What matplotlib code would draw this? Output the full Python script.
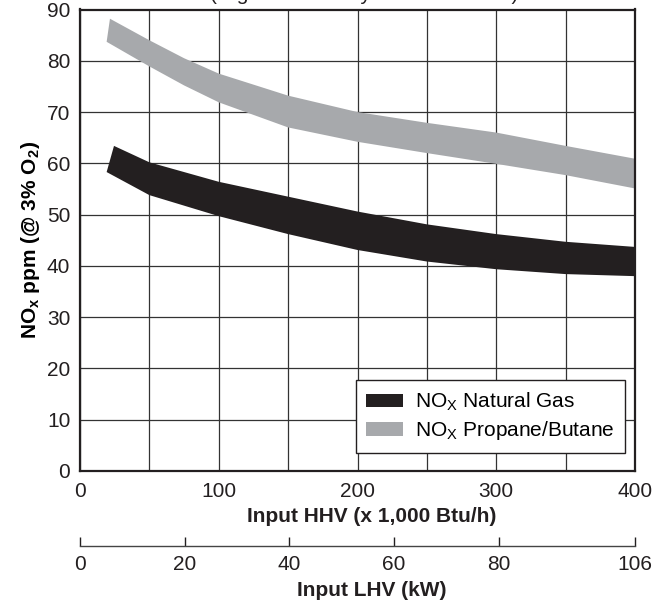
import matplotlib
matplotlib.use('Agg')
import matplotlib.pyplot as plt
from matplotlib.patches import Patch
import numpy as np

# band edges (x = input HHV in 1,000 Btu/h, y = NOx ppm)
gas_top_x = [24.5, 50, 100, 150, 200, 250, 300, 350, 400]
gas_top_y = [63.4, 60.2, 56.4, 53.5, 50.6, 48.1, 46.2, 44.7, 43.7]
gas_bot_x = [19.2, 50, 100, 150, 200, 250, 300, 350, 400]
gas_bot_y = [58.3, 53.8, 49.7, 46.2, 43.1, 40.85, 39.35, 38.4, 38.0]

lpg_top_x = [21.6, 50, 75, 100, 150, 200, 250, 300, 350, 400]
lpg_top_y = [88.2, 84.0, 80.5, 77.5, 73.2, 70.0, 67.9, 66.0, 63.4, 60.9]
lpg_bot_x = [19.2, 50, 75, 100, 150, 200, 250, 300, 350, 400]
lpg_bot_y = [83.7, 78.9, 75.2, 71.9, 67.0, 64.2, 62.0, 59.9, 57.7, 55.1]

hhv_ticks = [0, 100, 200, 300, 400]
lhv_ticks = [0, 20, 40, 60, 80, 106]
lhv_max = 106
hhv_max = 400

labels = ['NO$_\\mathregular{X}$ Natural Gas', 'NO$_\\mathregular{X}$ Propane/Butane']
colors = ['#231f20', '#a7a9ac']

plt.rcParams['font.family'] = ['Liberation Sans', 'DejaVu Sans']
plt.rcParams['mathtext.fontset'] = 'custom'
plt.rcParams['mathtext.rm'] = 'Liberation Sans'
plt.rcParams['mathtext.it'] = 'Liberation Sans:italic'
plt.rcParams['mathtext.bf'] = 'Liberation Sans:bold'

W, H = 668, 605
fig = plt.figure(figsize=(W / 100, H / 100), dpi=100)
ax = fig.add_axes([80 / W, 1 - 471 / H, 555 / W, 461.5 / H])

ax.fill(np.concatenate([gas_top_x, gas_bot_x[::-1]]),
        np.concatenate([gas_top_y, gas_bot_y[::-1]]),
        color=colors[0], lw=0, zorder=3)
ax.fill(np.concatenate([lpg_top_x, lpg_bot_x[::-1]]),
        np.concatenate([lpg_top_y, lpg_bot_y[::-1]]),
        color=colors[1], lw=0, zorder=3)

ax.set_xlim(0, hhv_max)
ax.set_ylim(0, 90)
ax.set_xticks(hhv_ticks)
ax.set_xticks(np.arange(0, 401, 50), minor=True)
ax.set_yticks(np.arange(0, 91, 10))
ax.tick_params(which='both', length=0, labelsize=15, colors='#231f20')
ax.tick_params(axis='x', pad=8)
ax.tick_params(axis='y', pad=7)
ax.grid(True, which='both', color='#333333', lw=0.9, zorder=1)
ax.set_axisbelow(True)
for s in ax.spines.values():
    s.set_linewidth(1.6)
    s.set_color('#231f20')
    s.set_zorder(5)

ax.set_ylabel(r'$\mathbf{NO_x\ ppm\ (@\ 3\%\ O_2)}$', fontsize=15)
ax.yaxis.set_label_coords(-38 / 555, 0.5)

fig.text(372 / W, 1 - 517 / H, 'Input HHV (x 1,000 Btu/h)', fontsize=15,
         fontweight='bold', ha='center', va='center', color='#231f20')
fig.text(372 / W, 1 - 591 / H, 'Input LHV (kW)', fontsize=15,
         fontweight='bold', ha='center', va='center', color='#231f20')
fig.text(364 / W, 1.0, '(Higher efficiency units at full fire)', fontsize=15,
         ha='center', va='baseline', color='#231f20')

sec = ax.secondary_xaxis(-(546 - 471) / 461.5,
                         functions=(lambda x: x * lhv_max / hhv_max,
                                    lambda x: x * hhv_max / lhv_max))
sec.set_xticks(lhv_ticks)
sec.tick_params(direction='in', length=6.5, width=1, pad=6.5, labelsize=15,
                colors='#231f20')
sec.spines['bottom'].set_linewidth(1)
sec.spines['bottom'].set_color('#444444')

handles = [Patch(facecolor=c, edgecolor='none') for c in colors]
leg = ax.legend(handles, labels, loc='lower right',
                bbox_to_anchor=(545 / 555, 18.3 / 461.5), borderaxespad=0,
                fontsize=15, frameon=True, fancybox=False, framealpha=1,
                edgecolor='#231f20', handlelength=1.73, handleheight=0.6,
                handletextpad=0.6, labelspacing=0.3, borderpad=0.5)
leg.get_frame().set_linewidth(1)
leg.set_zorder(6)

fig.savefig('out.png', dpi=100)
